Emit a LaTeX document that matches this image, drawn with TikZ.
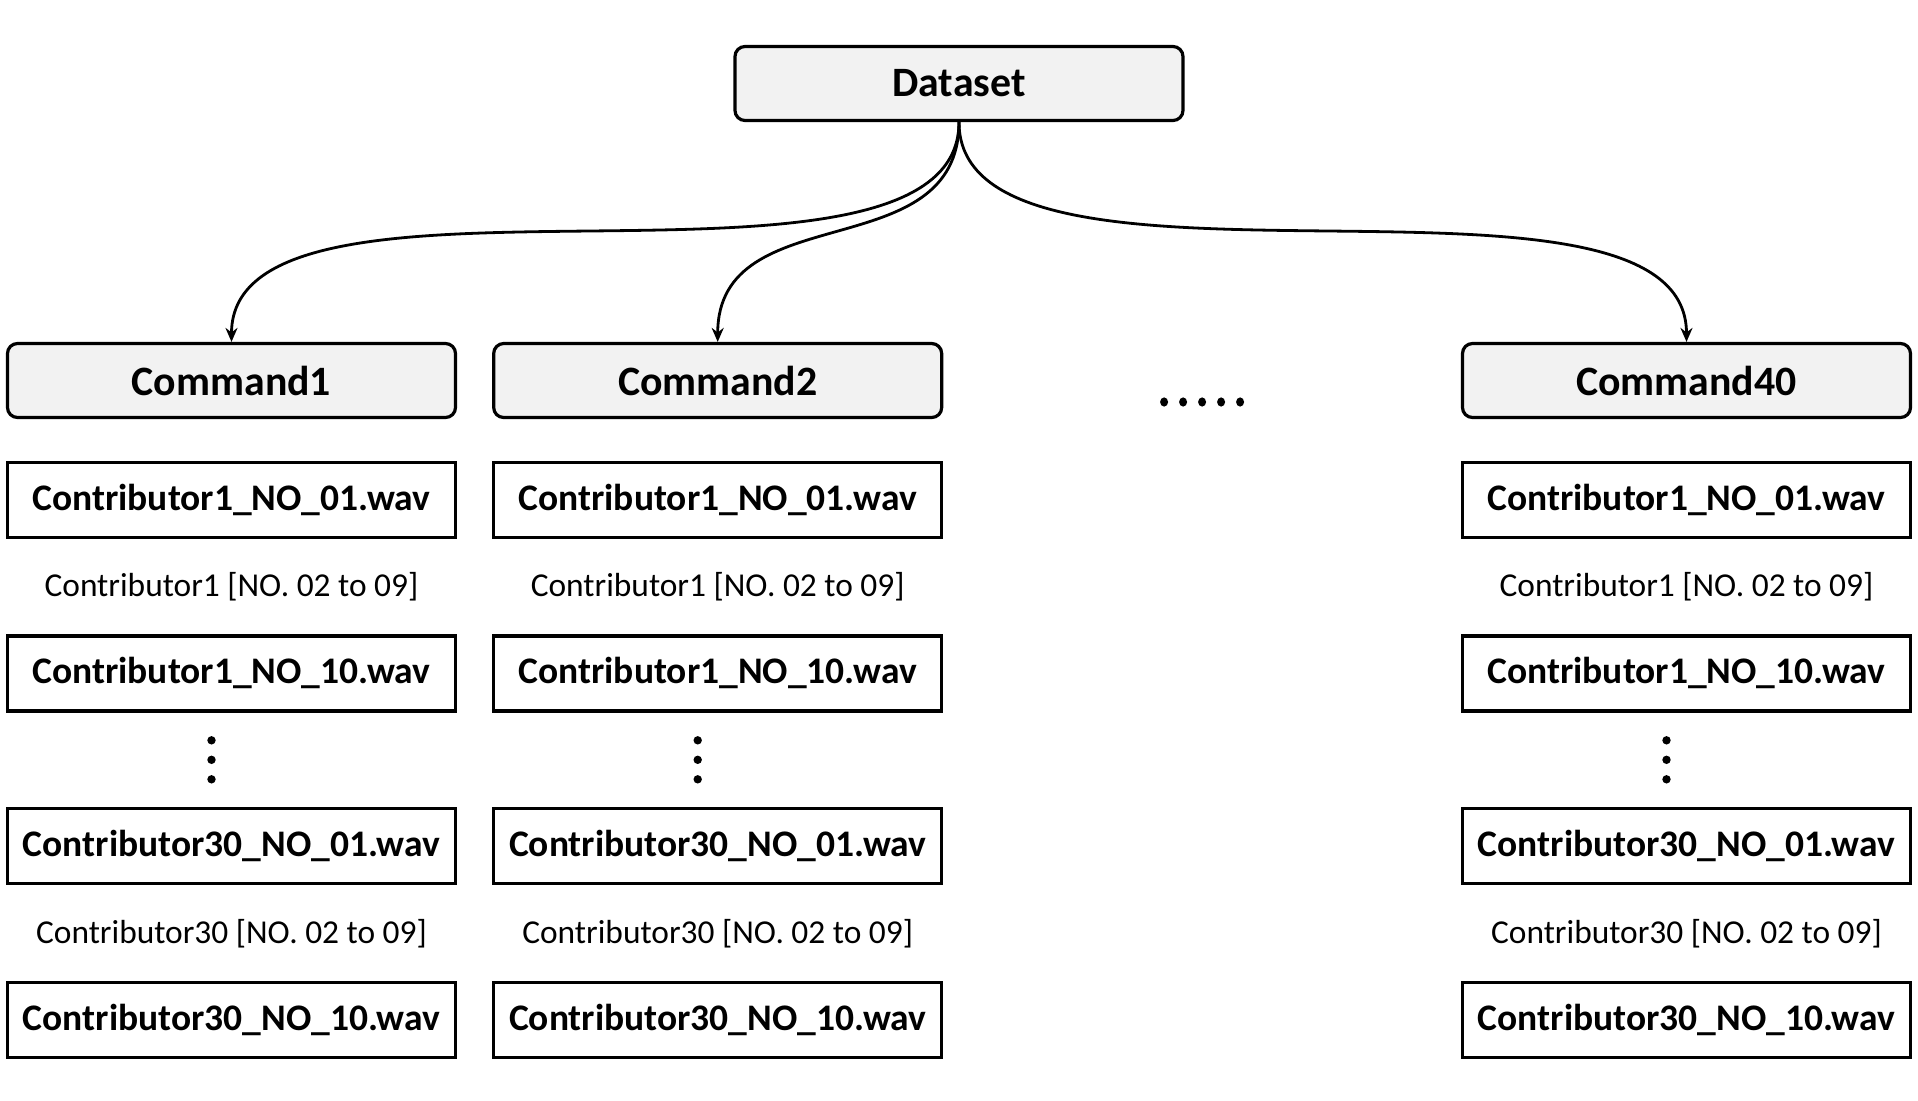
\documentclass[tikz,border=0pt]{standalone}
\usepackage{fontspec}
\setmainfont{Carlito}
\usetikzlibrary{arrows.meta,positioning}
\definecolor{boxgray}{HTML}{F2F2F2}

\begin{document}
\begin{tikzpicture}[
    x = 0.5pt, y = 0.5pt, % one unit = one pixel of the sketch
    > = {Stealth[length=7pt,width=6pt]}, % arrow head style
    line width = 1.4pt, % line style
    node distance = 21pt and 17.5pt % distance between boxes
    ]

    \tikzset{
    group/.style = {draw, line width=1.6pt, rounded corners=5pt, fill=boxgray,
        minimum width=224pt, minimum height=37pt, font=\bfseries\fontsize{20.9}{24}\selectfont},
    wav/.style = {draw, line width=1.6pt, minimum width=224pt, minimum height=37.5pt,
        font=\bfseries\fontsize{18.75}{22}\selectfont},
    rangetext/.style = {font=\fontsize{16.7}{19}\selectfont}
    }

    \useasboundingbox (0,0) rectangle (1918,-1100);

    % top level
    \node[group] (data) at (959,-83.5) {Dataset};
    \node[group] (c1) at (231.5,-380.5) {Command1};
    \node[group] (c2) [right=of c1] {Command2};
    \node[group] (c40) at (1686.5,-380.5) {Command40};

    % first command
    \node[wav] (c1a) [below=of c1] {Contributor1\_NO\_01.wav};
    \node[wav] (c1b) [below=47.5pt of c1a] {Contributor1\_NO\_10.wav};
    \node[wav] (c1c) [below=47.3pt of c1b] {Contributor30\_NO\_01.wav};
    \node[wav] (c1d) [below=47.9pt of c1c] {Contributor30\_NO\_10.wav};
    \path (c1a) -- node[rangetext] (c1r1) {Contributor1 [NO. 02 to 09]} (c1b);
    \path (c1c) -- node[rangetext] (c1r30) {Contributor30 [NO. 02 to 09]} (c1d);
    \path (c1b) -- coordinate (c1dots) (c1c);

    % second command
    \node[wav] (c2a) [below=of c2] {Contributor1\_NO\_01.wav};
    \node[wav] (c2b) [below=47.5pt of c2a] {Contributor1\_NO\_10.wav};
    \node[wav] (c2c) [below=47.3pt of c2b] {Contributor30\_NO\_01.wav};
    \node[wav] (c2d) [below=47.9pt of c2c] {Contributor30\_NO\_10.wav};
    \path (c2a) -- node[rangetext] (c2r1) {Contributor1 [NO. 02 to 09]} (c2b);
    \path (c2c) -- node[rangetext] (c2r30) {Contributor30 [NO. 02 to 09]} (c2d);
    \path (c2b) -- coordinate (c2dots) (c2c);

    % last command
    \node[wav] (c40a) [below=of c40] {Contributor1\_NO\_01.wav};
    \node[wav] (c40b) [below=47.5pt of c40a] {Contributor1\_NO\_10.wav};
    \node[wav] (c40c) [below=47.3pt of c40b] {Contributor30\_NO\_01.wav};
    \node[wav] (c40d) [below=47.9pt of c40c] {Contributor30\_NO\_10.wav};
    \path (c40a) -- node[rangetext] (c40r1) {Contributor1 [NO. 02 to 09]} (c40b);
    \path (c40c) -- node[rangetext] (c40r30) {Contributor30 [NO. 02 to 09]} (c40d);
    \path (c40b) -- coordinate (c40dots) (c40c);

    % dots for the skipped files and commands
    \foreach \col in {c1,c2,c40}
        \foreach \dy in {-19.5,0,19.5}
            \fill ([shift={(-20,\dy)}]\col dots) circle (2.1pt);
    \path (c2) -- coordinate (skip) (c40);
    \foreach \dx in {-38,-19,0,19,38}
        \fill ([shift={(\dx,-21.5)}]skip) ellipse (2pt and 2.3pt);

    \draw[->] (data.south) to[out=-90, in=90, looseness=0.7] (c1.north);
    \draw[->] (data.south) to[out=-90, in=90, looseness=1.15] (c2.north);
    \draw[->] (data.south) to[out=-90, in=90, looseness=0.7] (c40.north);

\end{tikzpicture}
\end{document}
